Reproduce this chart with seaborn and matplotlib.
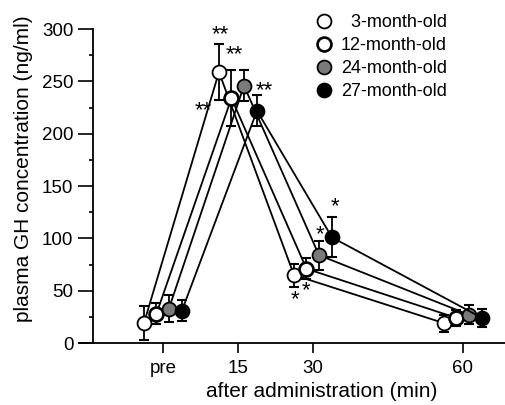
import numpy as np
import pandas as pd
import seaborn as sns
import matplotlib
matplotlib.use("Agg")
import matplotlib.pyplot as plt
from matplotlib.lines import Line2D

sns.set_style("ticks")
plt.rcParams['font.family'] = ['Liberation Sans', 'DejaVu Sans']
plt.rcParams['text.color'] = 'black'
plt.rcParams['axes.labelcolor'] = 'black'
plt.rcParams['xtick.color'] = 'black'
plt.rcParams['ytick.color'] = 'black'
plt.rcParams['axes.edgecolor'] = 'black'

# data
times = [0, 15, 30, 60]
time_labels = ['pre', '15', '30', '60']
groups = ['  3-month-old', '12-month-old', '24-month-old', '27-month-old']
gh_3m = [19, 259, 65, 19]
gh_12m = [28, 234, 71, 24]
gh_24m = [33, 246, 84, 27]
gh_27m = [31, 222, 101, 24]
err_3m = [16, 27, 11, 8]
err_12m = [10, 27, 10, 8]
err_24m = [13, 15, 14, 9]
err_27m = [10, 15, 19, 9]

# significance marks: (text, x, y)
stars = ['**', '**', '**', '**', '*', '*', '*', '*']
star_x = [11.4, 14.2, 8.0, 20.2, 26.4, 28.6, 31.4, 34.4]
star_y = [295, 276, 222, 241, 41, 50, 104, 130]

# styling
offsets = [-3.8, -1.3, 1.2, 3.8]
faces = ['white', 'white', '#7a7a7a', 'black']
edgew = [1.3, 1.9, 1.3, 1.3]

values = [gh_3m, gh_12m, gh_24m, gh_27m]
errors = [err_3m, err_12m, err_24m, err_27m]
rows = []
for g, off, v, e in zip(groups, offsets, values, errors):
    for t, vv, ee in zip(times, v, e):
        rows.append({'group': g, 'time': t, 'xpos': t + off, 'gh': vv, 'sem': ee})
df = pd.DataFrame(rows)

fig = plt.figure(figsize=(5.06, 4.05), dpi=100)
ax = fig.add_axes([0.156, 0.153, 0.844, 0.775])

for i, g in enumerate(groups):
    d = df[df['group'] == g]
    ax.errorbar(d['xpos'], d['gh'], yerr=d['sem'], fmt='none', ecolor='black',
                elinewidth=1.3, capsize=3.6, capthick=1.5, zorder=2)
    sns.lineplot(data=d, x='xpos', y='gh', ax=ax, color='black', lw=1.3,
                 marker='o', markersize=10, markerfacecolor=faces[i],
                 markeredgecolor='black', markeredgewidth=edgew[i],
                 legend=False, zorder=3 + i)

for s, x, y in zip(stars, star_x, star_y):
    ax.text(x, y, s, ha='center', va='center', fontsize=16, clip_on=False)

ax.set_xlim(-16.8, 68.6)
ax.set_ylim(0, 300)
ax.spines['left'].set_position(('data', -14))
ax.spines['left'].set_bounds(0, 300)
ax.spines['top'].set_visible(False)
ax.spines['right'].set_visible(False)
for sp in ['left', 'bottom']:
    ax.spines[sp].set_linewidth(1.3)

ax.set_xticks(times)
ax.set_xticklabels(time_labels)
ax.set_yticks(np.arange(0, 301, 50))
ax.set_yticks(np.arange(25, 300, 50), minor=True)
ax.tick_params(axis='y', which='major', length=11, width=1.2, labelsize=13.5, pad=3)
ax.tick_params(axis='y', which='minor', length=3, width=1.2)
ax.tick_params(axis='x', which='major', length=7, width=1.2, labelsize=13.5, pad=5)

ax.set_xlabel('after administration (min)', fontsize=15)
ax.set_ylabel('plasma GH concentration (ng/ml)', fontsize=15)
ax.xaxis.set_label_coords(0.569, -0.125)
ax.yaxis.set_label_coords(-0.108, 0.557)

handles = [Line2D([], [], ls='none', marker='o', markersize=10, markerfacecolor=f,
                  markeredgecolor='black', markeredgewidth=w)
           for f, w in zip(faces, edgew)]
ax.legend(handles, groups, loc='upper left', bbox_to_anchor=(0.552, 1.048),
          frameon=False, fontsize=13, handlelength=1.0, handletextpad=0.45,
          labelspacing=0.33, borderpad=0, borderaxespad=0)

fig.savefig('out.png', dpi=100)
